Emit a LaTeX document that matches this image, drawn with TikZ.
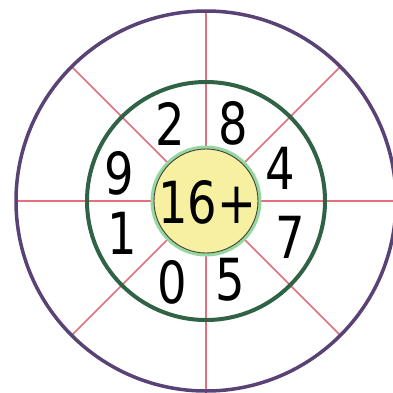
\documentclass[tikz,border=0pt]{standalone}
\usepackage{fontspec}
\setmainfont{DejaVu Sans}
\newfontfamily\digitfont[FakeStretch=0.8]{DejaVu Sans}
\definecolor{ringpurple}{RGB}{88,66,118}
\definecolor{ringgreen}{RGB}{48,98,70}
\definecolor{spoke}{RGB}{226,112,125}
\definecolor{hubfill}{RGB}{246,240,160}
\definecolor{hubglow}{RGB}{150,215,160}
\tikzset{
  ring/.style={circle,inner sep=0pt,outer sep=0pt,draw},
  digit/.style={font=\digitfont\fontsize{58}{58}\selectfont,inner sep=0pt,text=black},
}
\begin{document}
\begin{tikzpicture}[x=1pt,y=-1pt]
\useasboundingbox (0,0) rectangle (393,392);
\fill[white] (0,0) rectangle (393,392);
\node[ring,draw=none,minimum size=380pt] (outer) at (206,201) {};
\node[ring,draw=none,minimum size=104pt] (hub) at (206,201) {};
\foreach \a in {0,45,...,315}
  \draw[spoke,line width=1.6pt] (hub.\a) -- (outer.\a);
\draw[ringpurple,line width=3.5pt] (outer.center) circle (190);
\draw[ringgreen,line width=4pt] (outer.center) circle (119);
\draw[hubglow,line width=4pt] (hub.center) circle (53.5);
\fill[hubfill] (hub.center) circle (52);
\draw[black!75,line width=0.9pt] (hub.center) circle (52);
\node[digit] (n16) at (207,202) {16+};
\node[digit] (d2) at (170,124) {2};
\node[digit] (d8) at (233,123) {8};
\node[digit] (d9) at (119,173) {9};
\node[digit] (d4) at (280,168) {4};
\node[digit] (d1) at (122,233) {1};
\node[digit] (d7) at (290,237) {7};
\node[digit] (d0) at (172,282) {0};
\node[digit] (d5) at (230,280) {5};
\end{tikzpicture}
\end{document}
